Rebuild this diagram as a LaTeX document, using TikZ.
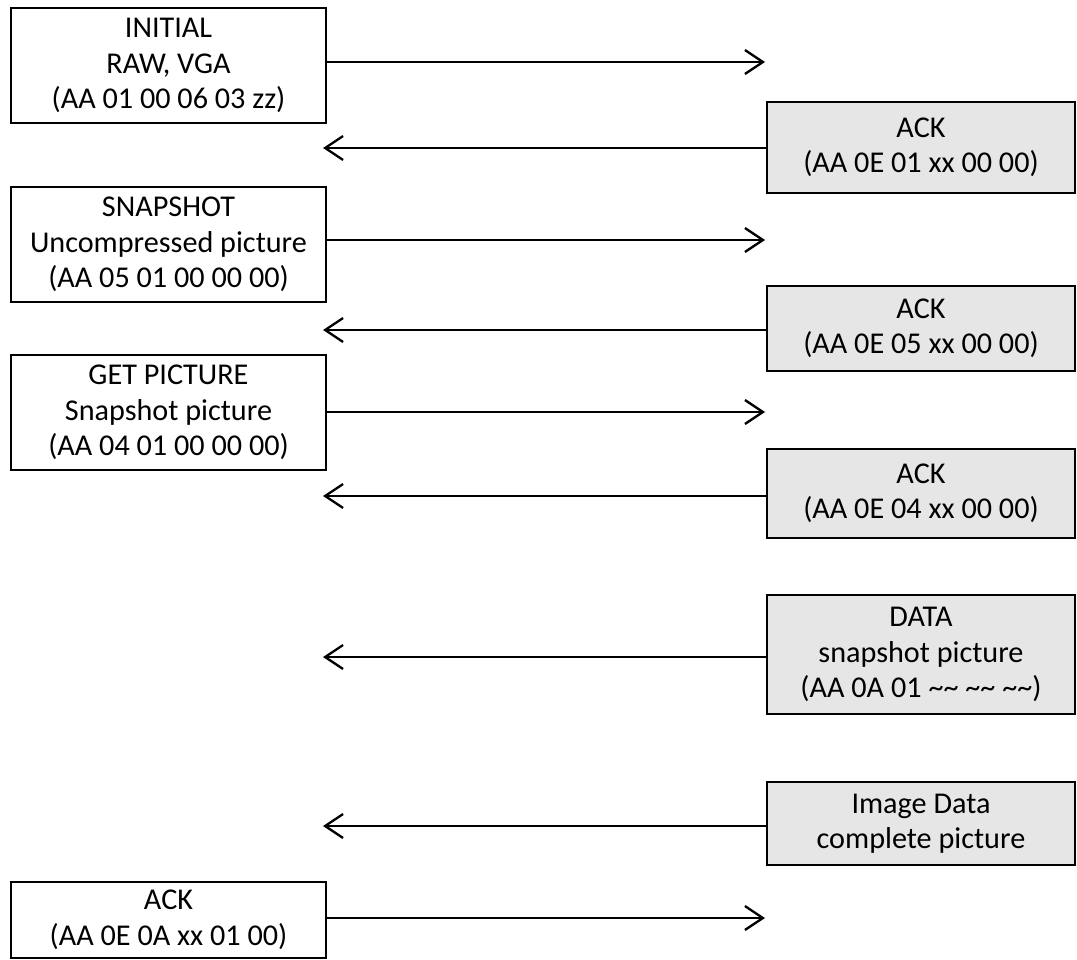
\documentclass[tikz,border=0pt]{standalone}
\usepackage{fontspec}
\setmainfont{Carlito}
\usetikzlibrary{arrows.meta}
\definecolor{boxgray}{HTML}{E6E6E6}
\tikzset{
  base/.style={draw=black, line width=2.3pt, align=center, inner sep=0pt,
    font=\fontsize{30.2}{35.5}\selectfont},
  hostbox/.style={base, fill=white, minimum width=315pt},
  cambox/.style={base, fill=boxgray, minimum width=308pt},
  msg/.style={line width=2.3pt, -{Straight Barb[length=18pt,width=24pt,line width=2.3pt]}}
}
\begin{document}
\begin{tikzpicture}[x=1pt,y=-1pt]
\useasboundingbox (0,0) rectangle (1077,960);
% host side (left)
\node[hostbox, minimum height=115pt] (b1) at (168.5,65.5) {INITIAL\\RAW, VGA\\(AA 01 00 06 03 zz)};
\node[hostbox, minimum height=115pt] (b2) at (168.5,244.5) {SNAPSHOT\\Uncompressed picture\\(AA 05 01 00 00 00)};
\node[hostbox, minimum height=115pt] (b3) at (168.5,412.5) {GET PICTURE\\Snapshot picture\\(AA 04 01 00 00 00)};
\node[hostbox, minimum height=76pt] (b4) at (168.5,920) {ACK\\(AA 0E 0A xx 01 00)};
% camera side (right)
\node[cambox, minimum height=91pt] (c1) at (921,147.5) {ACK\\(AA 0E 01 xx 00 00)};
\node[cambox, minimum height=85pt] (c2) at (921,328.5) {ACK\\(AA 0E 05 xx 00 00)};
\node[cambox, minimum height=89pt] (c3) at (921,493.5) {ACK\\(AA 0E 04 xx 00 00)};
\node[cambox, minimum height=119pt] (c4) at (921,654.5) {DATA\\snapshot picture\\(AA 0A 01 \char`\~\char`\~\ \char`\~\char`\~\ \char`\~\char`\~)};
\node[cambox, minimum height=83pt] (c5) at (921,823.5) {Image Data\\complete picture};
% arrow tips
\coordinate (t1) at (765,62);
\coordinate (t2) at (323,148);
\coordinate (t3) at (765,240);
\coordinate (t4) at (323,330);
\coordinate (t5) at (765,412);
\coordinate (t6) at (323,496);
\coordinate (t7) at (323,657);
\coordinate (t8) at (323,826);
\coordinate (t9) at (765,918);
% messages
\draw[msg] (b1.east |- t1) -- (t1);
\draw[msg] (c1.west |- t2) -- (t2);
\draw[msg] (b2.east |- t3) -- (t3);
\draw[msg] (c2.west |- t4) -- (t4);
\draw[msg] (b3.east |- t5) -- (t5);
\draw[msg] (c3.west |- t6) -- (t6);
\draw[msg] (c4.west |- t7) -- (t7);
\draw[msg] (c5.west |- t8) -- (t8);
\draw[msg] (b4.east |- t9) -- (t9);
\end{tikzpicture}
\end{document}
